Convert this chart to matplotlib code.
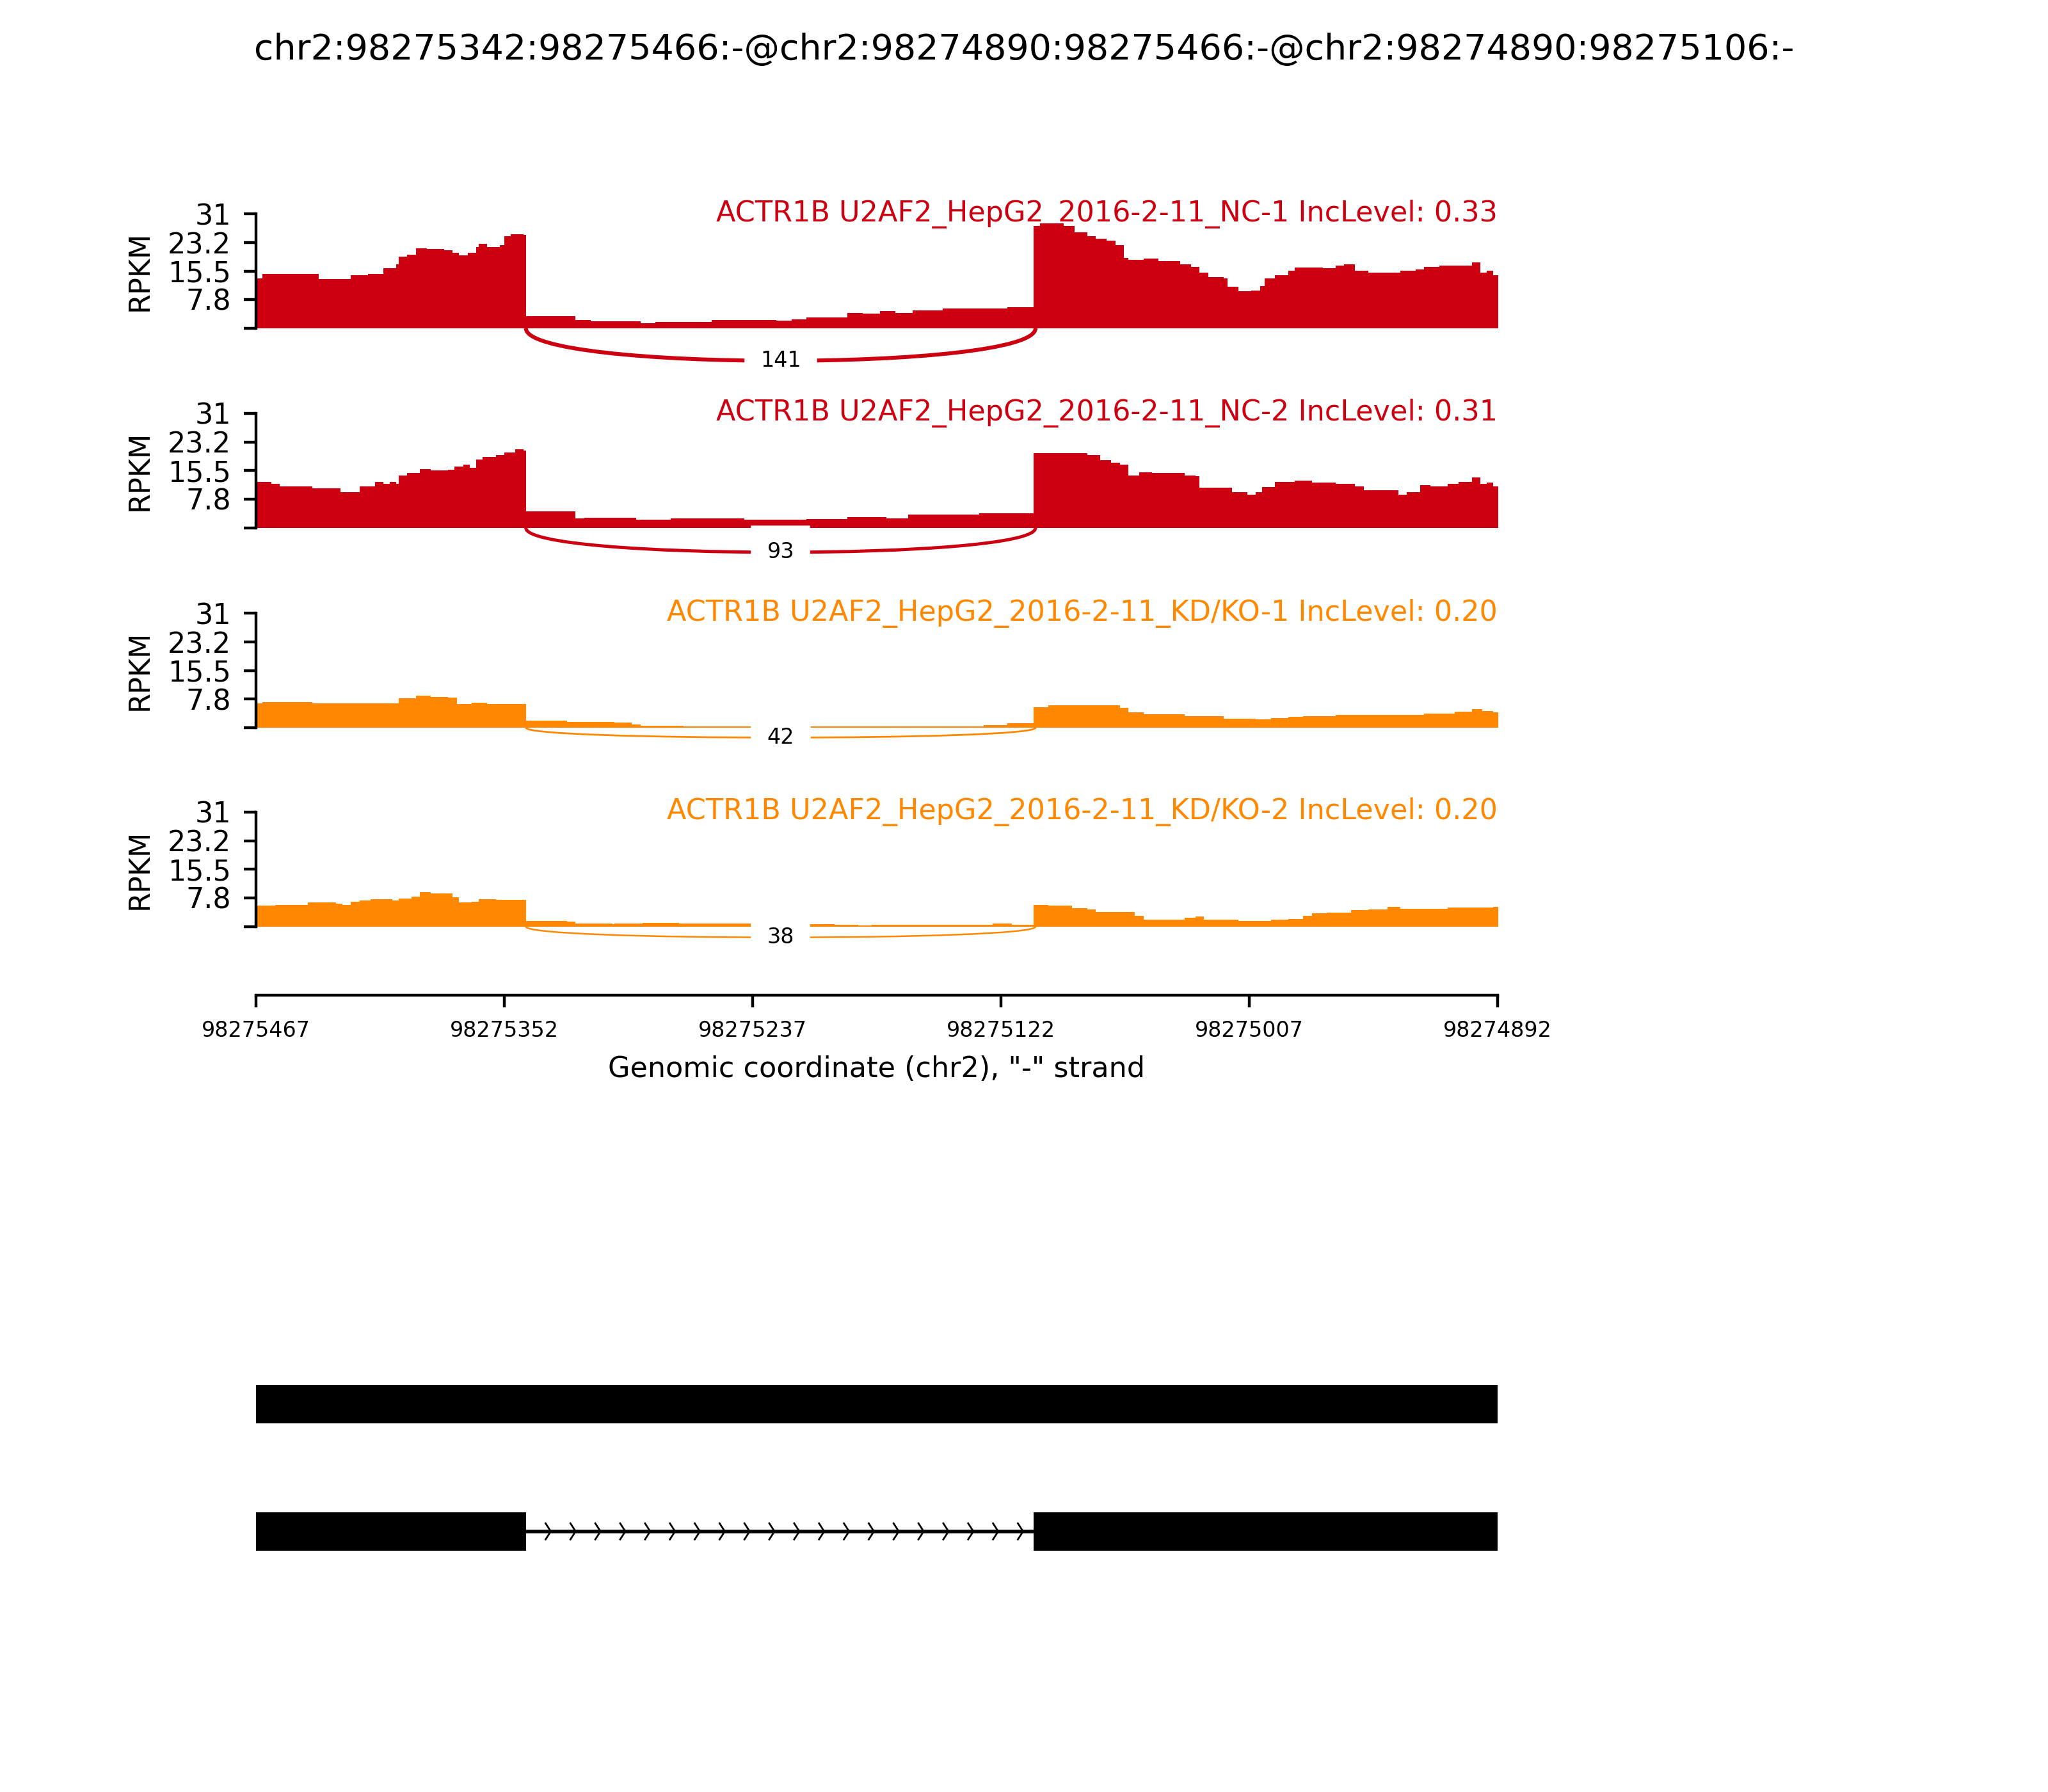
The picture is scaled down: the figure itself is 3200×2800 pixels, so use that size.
import numpy as np
import matplotlib
matplotlib.use("Agg")
import matplotlib.pyplot as plt
from matplotlib.path import Path
from matplotlib.patches import PathPatch, Rectangle

# ---------------- data ----------------
title = "chr2:98275342:98275466:-@chr2:98274890:98275466:-@chr2:98274890:98275106:-"
region_left = 98275467
region_right = 98274892
xticks = [98275467, 98275352, 98275237, 98275122, 98275007, 98274892]
yticks = [0, 7.8, 15.5, 23.2, 31]
ytick_labels = ["", "7.8", "15.5", "23.2", "31"]
y_max = 31

sample_labels = [
    "ACTR1B U2AF2_HepG2_2016-2-11_NC-1 IncLevel: 0.33",
    "ACTR1B U2AF2_HepG2_2016-2-11_NC-2 IncLevel: 0.31",
    "ACTR1B U2AF2_HepG2_2016-2-11_KD/KO-1 IncLevel: 0.20",
    "ACTR1B U2AF2_HepG2_2016-2-11_KD/KO-2 IncLevel: 0.20",
]
sample_colors = ["#CC0011", "#CC0011", "#FF8800", "#FF8800"]
junction_left = 98275342
junction_right = 98275106
junction_counts = [141, 93, 42, 38]

nc1_pos = [98275466, 98275463, 98275437, 98275422, 98275414, 98275407, 98275401, 98275400,
           98275396, 98275392, 98275387, 98275379, 98275375, 98275372, 98275368, 98275364,
           98275363, 98275359, 98275353, 98275351, 98275348, 98275342, 98275341, 98275318,
           98275311, 98275288, 98275281, 98275255, 98275225, 98275218, 98275211, 98275192,
           98275185, 98275177, 98275170, 98275162, 98275155, 98275148, 98275137, 98275118,
           98275106, 98275103, 98275092, 98275087, 98275081, 98275077, 98275072, 98275068,
           98275064, 98275062, 98275055, 98275048, 98275038, 98275033, 98275029, 98275025,
           98275018, 98275016, 98275011, 98275005, 98275001, 98274999, 98274994, 98274988,
           98274985, 98274977, 98274972, 98274966, 98274962, 98274957, 98274951, 98274944,
           98274936, 98274929, 98274925, 98274918, 98274910, 98274903, 98274899, 98274896,
           98274893]
nc1_rpkm = [13.5, 14.7, 13.3, 14.4, 14.7, 16.2, 17.3, 19.4,
            19.9, 21.7, 21.4, 21.1, 20.5, 19.7, 20.5, 22.0,
            22.8, 22.0, 22.6, 24.9, 25.5, 25.3, 3.3, 2.2,
            1.9, 1.3, 1.7, 2.2, 2.1, 2.5, 2.9, 4.2,
            4.0, 4.7, 4.2, 4.9, 4.8, 5.3, 5.4, 5.7,
            27.8, 28.4, 27.8, 26.0, 24.9, 24.2, 23.7, 22.6,
            19.1, 18.5, 18.8, 18.2, 17.3, 16.7, 15.0, 13.8,
            13.5, 11.2, 10.1, 10.3, 11.5, 13.5, 14.4, 15.6,
            16.5, 16.5, 16.2, 17.0, 17.4, 15.6, 15.1, 15.0,
            15.6, 15.9, 16.7, 17.0, 17.0, 17.9, 15.0, 15.6,
            14.4]

nc2_pos = [98275466, 98275459, 98275455, 98275440, 98275427, 98275418, 98275411, 98275407,
           98275404, 98275401, 98275400, 98275396, 98275390, 98275385, 98275377, 98275374,
           98275370, 98275367, 98275364, 98275361, 98275355, 98275351, 98275346, 98275342,
           98275341, 98275318, 98275314, 98275290, 98275274, 98275240, 98275211, 98275192,
           98275174, 98275164, 98275131, 98275106, 98275081, 98275075, 98275070, 98275066,
           98275062, 98275057, 98275051, 98275036, 98275031, 98275029, 98275014, 98275007,
           98275003, 98275000, 98274994, 98274985, 98274977, 98274966, 98274957, 98274953,
           98274937, 98274933, 98274927, 98274922, 98274914, 98274909, 98274903, 98274899,
           98274896, 98274893]
nc2_rpkm = [12.4, 12.0, 11.2, 10.8, 9.6, 11.2, 12.5, 11.9,
            12.5, 11.9, 14.2, 14.8, 15.9, 15.5, 15.7, 16.6,
            17.2, 16.3, 18.6, 19.2, 19.8, 20.5, 21.3, 20.9,
            4.4, 2.6, 2.7, 2.2, 2.5, 2.2, 2.4, 2.9,
            2.6, 3.6, 4.0, 20.3, 19.8, 18.4, 17.7, 17.2,
            14.2, 15.1, 14.8, 14.2, 14.0, 10.9, 9.6, 9.0,
            9.6, 11.0, 12.5, 12.8, 12.2, 11.9, 11.2, 10.2,
            9.0, 9.6, 11.6, 11.3, 11.9, 12.5, 13.7, 11.9,
            12.2, 11.3]

kd1_pos = [98275466, 98275463, 98275440, 98275400, 98275392, 98275385, 98275377, 98275373,
           98275366, 98275359, 98275341, 98275322, 98275300, 98275292, 98275288, 98275268,
           98275211, 98275181, 98275129, 98275118, 98275106, 98275099, 98275066, 98275062,
           98275055, 98275036, 98275018, 98275003, 98274996, 98274988, 98274981, 98274966,
           98274925, 98274911, 98274903, 98274898, 98274893]
kd1_rpkm = [6.6, 6.9, 6.6, 7.9, 8.6, 8.4, 8.1, 6.5,
            6.7, 6.4, 1.9, 1.6, 1.4, 0.8, 0.5, 0.35,
            0.3, 0.4, 0.7, 1.2, 5.6, 6.0, 5.3, 4.2,
            3.6, 3.1, 2.5, 2.2, 2.6, 2.9, 3.1, 3.5,
            3.9, 4.4, 5.0, 4.6, 4.1]

kd2_pos = [98275466, 98275457, 98275442, 98275429, 98275426, 98275422, 98275418, 98275413,
           98275403, 98275400, 98275394, 98275390, 98275385, 98275375, 98275372, 98275366,
           98275363, 98275355, 98275341, 98275322, 98275318, 98275301, 98275300, 98275287,
           98275270, 98275211, 98275198, 98275187, 98275181, 98275125, 98275116, 98275106,
           98275099, 98275088, 98275081, 98275077, 98275059, 98275055, 98275036, 98275031,
           98275027, 98275011, 98274996, 98274988, 98274981, 98274977, 98274970, 98274959,
           98274951, 98274942, 98274936, 98274914, 98274893]
kd2_rpkm = [5.7, 5.9, 6.6, 6.3, 5.9, 6.8, 7.1, 7.5,
            7.1, 7.6, 8.2, 9.4, 9.0, 7.9, 6.6, 6.8,
            7.4, 7.2, 1.6, 1.3, 0.9, 0.7, 0.9, 1.1,
            0.8, 0.7, 0.5, 0.4, 0.5, 0.8, 0.5, 5.9,
            5.7, 5.0, 4.7, 3.9, 2.9, 1.9, 2.4, 2.8,
            1.9, 1.6, 1.8, 2.1, 2.9, 3.6, 3.8, 4.4,
            4.7, 5.3, 4.9, 5.1, 5.3]

sample_pos = [nc1_pos, nc2_pos, kd1_pos, kd2_pos]
sample_rpkm = [nc1_rpkm, nc2_rpkm, kd1_rpkm, kd2_rpkm]

# isoforms (exon start, exon end), 1-based inclusive
isoform_top_exons = [(98274890, 98275466)]
isoform_bottom_exons = [(98275342, 98275466), (98274890, 98275106)]
intron_bottom = (98275342, 98275106)

# ---------------- style / layout ----------------
junction_lw = [1.1, 0.9, 0.5, 0.45]
axes_left = 0.125
axes_width = 0.60625
panel_bottoms = [0.8168, 0.7054, 0.5939, 0.4829]
panel_height = 0.0639

plt.rcParams["font.family"] = ["DejaVu Sans"]
fig = plt.figure(figsize=(8, 7), dpi=400)
fig.patch.set_facecolor("white")

fig.text(0.5, 0.972, title, ha="center", va="center", fontsize=10)

for i in range(4):
    ax = fig.add_axes([axes_left, panel_bottoms[i], axes_width, panel_height])
    # each base covers [pos, pos + 1)
    x = [p + 1 for p in sample_pos[i]] + [region_right - 1]
    y = list(sample_rpkm[i]) + [sample_rpkm[i][-1]]
    color = sample_colors[i]
    ax.fill_between(x, y, 0, step="post", color=color, lw=0)
    ax.set_xlim(region_left, region_right)
    ax.set_ylim(0, y_max)
    for s in ["top", "right", "bottom"]:
        ax.spines[s].set_visible(False)
    ax.spines["left"].set_linewidth(0.8)
    ax.set_xticks([])
    ax.set_yticks(yticks)
    ax.set_yticklabels(ytick_labels, fontsize=8)
    ax.tick_params(axis="y", length=3.5, width=0.8)
    ax.set_ylabel("RPKM", fontsize=8)
    ax.text(1.0, 1.0, sample_labels[i], transform=ax.transAxes, ha="right",
            va="center", fontsize=8, color=color)

    # junction arc
    h = 0.413 * max(sample_rpkm[i])
    pts = [(junction_left, 0), (junction_left, -h), (junction_right, -h), (junction_right, 0)]
    path = Path(pts, [Path.MOVETO, Path.CURVE4, Path.CURVE4, Path.CURVE4])
    patch = PathPatch(path, ec=color, fc="none", lw=junction_lw[i], clip_on=False)
    ax.add_patch(patch)
    mid_x = (junction_left + junction_right) / 2.0
    mid_y = -0.75 * h
    ax.text(mid_x, mid_y, str(junction_counts[i]), ha="center", va="center",
            fontsize=6, backgroundcolor="w", clip_on=False)

# genomic x axis
axx = fig.add_axes([axes_left, 0.4446, axes_width, 0.0001])
axx.set_xlim(region_left, region_right)
for s in ["top", "right", "left"]:
    axx.spines[s].set_visible(False)
axx.spines["bottom"].set_linewidth(0.8)
axx.set_yticks([])
axx.set_xticks(xticks)
axx.set_xticklabels([str(t) for t in xticks], fontsize=6)
axx.tick_params(axis="x", length=3.5, width=0.8)
axx.set_xlabel('Genomic coordinate (chr2), "-" strand', fontsize=8)
axx.patch.set_visible(False)

# gene model
axg = fig.add_axes([axes_left, 0.10, axes_width, 0.16])
axg.set_xlim(region_left, region_right)
axg.set_ylim(0, 1)
axg.axis("off")
bar_h = 0.134
top_y = 0.7275
bot_y = 0.284
for (s, e) in isoform_top_exons:
    axg.add_patch(Rectangle((s, top_y - bar_h / 2), e + 1 - s, bar_h, fc="k", ec="none"))
for (s, e) in isoform_bottom_exons:
    axg.add_patch(Rectangle((s, bot_y - bar_h / 2), e + 1 - s, bar_h, fc="k", ec="none"))
i_start, i_end = intron_bottom
axg.plot([i_start, i_end], [bot_y, bot_y], color="k", lw=1.0)
n_arrows = 21
step = (i_start - i_end) / 20.5
spread = 2.4
dy = 0.028
for k in range(n_arrows):
    loc = i_start - k * step
    axg.plot([loc + spread, loc, loc + spread], [bot_y - dy, bot_y, bot_y + dy],
             color="k", lw=0.5)

fig.savefig("out.png", dpi=400, facecolor="white")
